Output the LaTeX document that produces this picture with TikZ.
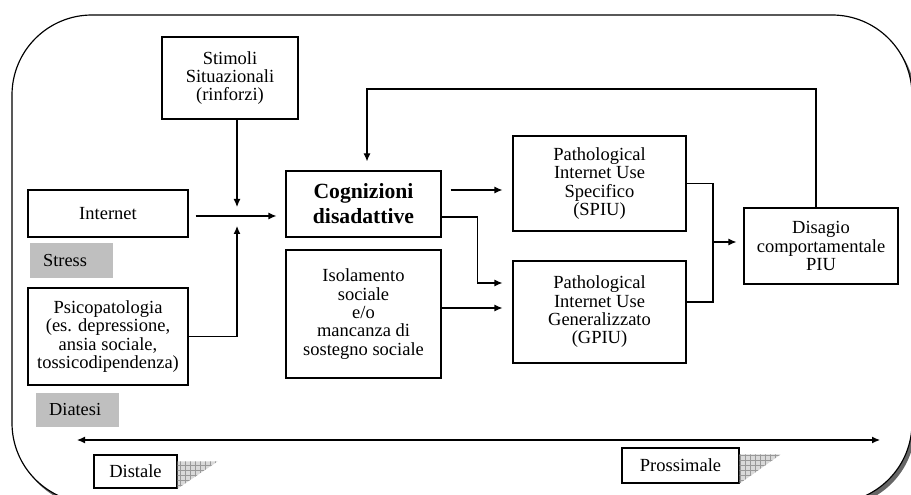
\documentclass[tikz,border=0pt]{standalone}
\usepackage{fontspec}
\setmainfont{Liberation Serif}
\usetikzlibrary{positioning}
\usetikzlibrary{arrows.meta}
\usetikzlibrary{patterns}

\begin{document}
\begin{tikzpicture}
[
x=0.6pt, y=-0.6pt,
box-a/.style={rectangle,draw,fill=white,line width=0.7pt,align=center,inner sep=0pt,font=\fontsize{11.1}{11}\selectfont},
box-b/.style={box-a,font=\fontsize{13}{15}\selectfont\bfseries},
tag-a/.style={rectangle,fill=black!25,inner sep=0pt,inner xsep=7.8pt,text width=34pt,align=left,font=\fontsize{11}{11}\selectfont},
shade-a/.style={pattern=grid,pattern color=black!40},
line-a/.style={line width=0.7pt},
arrow-a/.style={line-a,-{Latex[length=4.8pt,width=4.2pt]}},
]
\useasboundingbox (0,0) rectangle (911,495);
% frame
\fill[black!60, rounded corners=48pt] (15,19) rectangle (915,507);
\draw[line-a, fill=white, rounded corners=48pt] (12,15) rectangle (912,503);

\node (stim)   [box-a, minimum width=81.6pt, minimum height=49.2pt] at (230,78)    {Stimoli\\Situazionali\\(rinforzi)};
\node (inet)   [box-a, minimum width=96pt,   minimum height=28.2pt] at (108,213.5) {Internet};
\node (stress) [tag-a, minimum height=21pt]                         at (71.5,260.5) {Stress};
\node (psico)  [box-a, minimum width=96pt,   minimum height=58.2pt] at (108,336.5) {Psicopatologia\\(es. depressione,\\ansia sociale,\\tossicodipendenza)};
\node (diat)   [tag-a, minimum height=20.4pt]                       at (77.5,410)  {Diatesi};
\node (cogn)   [box-b, minimum width=93pt,   minimum height=39.6pt] at (363.5,204) {Cognizioni\\disadattive};
\node (iso)    [box-a, minimum width=93pt,   minimum height=76.8pt] at (363.5,314) {Isolamento\\sociale\\e/o\\mancanza di\\sostegno sociale};
\node (spiu)   [box-a, minimum width=103.8pt, minimum height=57pt]  at (599.5,183.5) {Pathological\\Internet Use\\Specifico\\(SPIU)};
\node (gpiu)   [box-a, minimum width=103.8pt, minimum height=61.2pt] at (599.5,312) {Pathological\\Internet Use\\Generalizzato\\(GPIU)};
\node (dis)    [box-a, minimum width=92.4pt, minimum height=45.6pt] at (821,246)   {Disagio\\comportamentale\\PIU};
\node (dist)   [box-a, minimum width=49.8pt, minimum height=19.8pt] at (135.5,471.5) {Distale};
\node (pros)   [box-a, minimum width=70.2pt, minimum height=21pt]   at (680.5,465.5) {Prossimale};

\fill[black!15] ([yshift=-4.2pt]dist.north east) -- ++(40,0) -- (dist.south east) -- cycle;
\fill[shade-a]  ([yshift=-4.2pt]dist.north east) -- ++(40,0) -- (dist.south east) -- cycle;
\fill[black!15] ([yshift=-4.2pt]pros.north east) -- ++(41,0) -- (pros.south east) -- cycle;
\fill[shade-a]  ([yshift=-4.2pt]pros.north east) -- ++(41,0) -- (pros.south east) -- cycle;

\coordinate (jn) at (237,216);
\coordinate (fb) at (367,89);
\coordinate (c1) at ([yshift=8.4pt]cogn.east);
\coordinate (c2) at ([yshift=-7.8pt]cogn.east);
\coordinate (c3) at ([yshift=3.6pt]iso.east);
\coordinate (mg) at (713,242);
\coordinate (dl) at (77,440);
\coordinate (pr) at (880,440);

\draw [arrow-a, shorten >=5.4pt] (stim.south -| jn) -- (jn);
\draw [arrow-a, shorten >=6pt] (psico.east) -| (jn);
\draw [arrow-a, shorten <=4.2pt, shorten >=5.4pt] (inet.east |- jn) -- (cogn.west |- jn);
\draw [arrow-a, shorten >=5.4pt] ([xshift=-3pt]dis.north) |- (fb) -- (fb |- cogn.north);
\draw [arrow-a, shorten <=5.4pt, shorten >=6pt] (c1) -- (spiu.west |- c1);
\draw [arrow-a, shorten >=6pt] (c2) -- ++(36,0) |- ([yshift=17.4pt]gpiu.west);
\draw [arrow-a, shorten >=6pt] (c3) -- (gpiu.west |- c3);
\draw [line-a] (spiu.east) -| (mg);
\draw [line-a] ([yshift=6pt]gpiu.east) -| (mg);
\draw [arrow-a, shorten >=4.2pt] (mg) -- (dis.west |- mg);
\draw [line-a, {Latex[length=4.8pt,width=4.2pt]}-{Latex[length=4.8pt,width=4.2pt]}] (dl) -- (pr);
\end{tikzpicture}
\end{document}
